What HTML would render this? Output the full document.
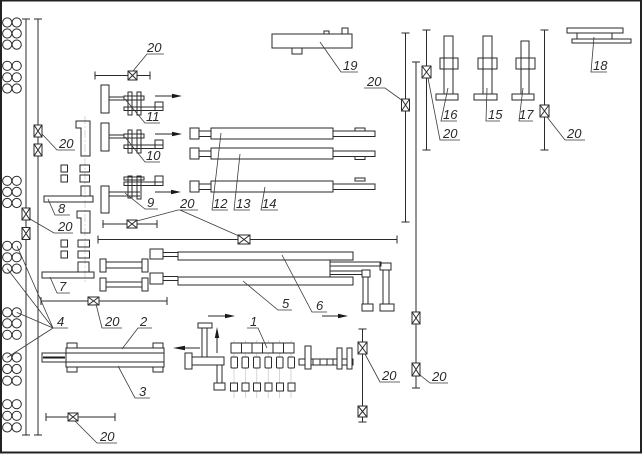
<!DOCTYPE html>
<html><head><meta charset="utf-8"><style>
html,body{margin:0;padding:0;background:#fff;}
svg{display:block;}
.s{fill:none;stroke:#2a2a2a;stroke-width:1;}
.l{fill:none;stroke:#3a3a3a;stroke-width:0.8;}
.c{fill:none;stroke:#bdbdbd;stroke-width:0.6;}
text{font-family:"Liberation Sans",sans-serif;font-style:italic;font-size:13px;fill:#2a2a2a;}
.a{fill:#1a1a1a;stroke:none;}
</style></head><body>
<svg width="642" height="454" viewBox="0 0 642 454" xmlns="http://www.w3.org/2000/svg">
<rect x="1" y="0.5" width="640" height="452" fill="none" stroke="#222" stroke-width="2"/>

<!-- circles -->
<g class="s">
<circle cx="7.2" cy="22.5" r="4.6"/><circle cx="16.7" cy="22.5" r="4.6"/>
<circle cx="7.2" cy="33.5" r="4.6"/><circle cx="16.7" cy="33.5" r="4.6"/>
<circle cx="7.2" cy="44.6" r="4.6"/><circle cx="16.7" cy="44.6" r="4.6"/>
<circle cx="7.2" cy="65.8" r="4.6"/><circle cx="16.7" cy="65.8" r="4.6"/>
<circle cx="7.2" cy="77.3" r="4.6"/><circle cx="16.7" cy="77.3" r="4.6"/>
<circle cx="7.2" cy="88.5" r="4.6"/><circle cx="16.7" cy="88.5" r="4.6"/>
<circle cx="7.2" cy="180.8" r="4.6"/><circle cx="16.7" cy="180.8" r="4.6"/>
<circle cx="7.2" cy="191.9" r="4.6"/><circle cx="16.7" cy="191.9" r="4.6"/>
<circle cx="7.2" cy="203" r="4.6"/><circle cx="16.7" cy="203" r="4.6"/>
<circle cx="7.2" cy="245.8" r="4.6"/><circle cx="16.7" cy="245.8" r="4.6"/>
<circle cx="7.2" cy="257.3" r="4.6"/><circle cx="16.7" cy="257.3" r="4.6"/>
<circle cx="7.2" cy="268.6" r="4.6"/><circle cx="16.7" cy="268.6" r="4.6"/>
<circle cx="7.2" cy="312.4" r="4.6"/><circle cx="16.7" cy="312.4" r="4.6"/>
<circle cx="7.2" cy="323.4" r="4.6"/><circle cx="16.7" cy="323.4" r="4.6"/>
<circle cx="7.2" cy="334.8" r="4.6"/><circle cx="16.7" cy="334.8" r="4.6"/>
<circle cx="7.2" cy="357.5" r="4.6"/><circle cx="16.7" cy="357.5" r="4.6"/>
<circle cx="7.2" cy="369" r="4.6"/><circle cx="16.7" cy="369" r="4.6"/>
<circle cx="7.2" cy="380.7" r="4.6"/><circle cx="16.7" cy="380.7" r="4.6"/>
<circle cx="7.2" cy="404.2" r="4.6"/><circle cx="16.7" cy="404.2" r="4.6"/>
<circle cx="7.2" cy="415.8" r="4.6"/><circle cx="16.7" cy="415.8" r="4.6"/>
<circle cx="7.2" cy="427.4" r="4.6"/><circle cx="16.7" cy="427.4" r="4.6"/>
</g>

<!-- vertical lines with end ticks -->
<g class="s">
<path d="M26 19V435M22 19H30M22 435H30"/>
<path d="M38 19V435M34 19H42M34 435H42"/>
<path d="M405.5 33V222M401.5 33H409.5M401.5 222H409.5"/>
<path d="M416 62V388M412 62H420M412 388H420"/>
<path d="M426.5 30V150M422.5 30H430.5M422.5 150H430.5"/>
<path d="M544.5 30V150M540.5 30H548.5M540.5 150H548.5"/>
<path d="M362.5 329V422M358.5 329H366.5M358.5 422H366.5"/>
<!-- horizontal bars with ticks -->
<path d="M95 75.5H150M95 71.5V79.5M150 71.5V79.5"/>
<path d="M103 224H157M103 220V228M157 220V228"/>
<path d="M98 239.5H397M98 235.5V243.5M397 235.5V243.5"/>
<path d="M41 301H167M41 297V305M167 297V305"/>
<path d="M46 417H115M46 413V421M115 413V421"/>
</g>

<!-- crossed boxes -->
<g class="s" fill="#fff">
<rect x="34" y="125" width="8" height="12" fill="#fff"/><path d="M34 125L42 137M42 125L34 137"/>
<rect x="34" y="144" width="8" height="12" fill="#fff"/><path d="M34 144L42 156M42 144L34 156"/>
<rect x="22" y="208" width="8" height="12" fill="#fff"/><path d="M22 208L30 220M30 208L22 220"/>
<rect x="22" y="227.5" width="8" height="12" fill="#fff"/><path d="M22 227.5L30 239.5M30 227.5L22 239.5"/>
<rect x="401.5" y="99" width="8" height="12" fill="#fff"/><path d="M401.5 99L409.5 111M409.5 99L401.5 111"/>
<rect x="422" y="66" width="9" height="12" fill="#fff"/><path d="M422 66L431 78M431 66L422 78"/>
<rect x="540" y="105" width="9" height="12" fill="#fff"/><path d="M540 105L549 117M549 105L540 117"/>
<rect x="358" y="342" width="9" height="12" fill="#fff"/><path d="M358 342L367 354M367 342L358 354"/>
<rect x="358" y="406" width="9" height="11" fill="#fff"/><path d="M358 406L367 417M367 406L358 417"/>
<rect x="412" y="312" width="8" height="12" fill="#fff"/><path d="M412 312L420 324M420 312L412 324"/>
<rect x="412" y="363" width="8" height="13" fill="#fff"/><path d="M412 363L420 376M420 363L412 376"/>
<rect x="128" y="71" width="9" height="9" fill="#fff"/><path d="M128 71L137 80M137 71L128 80"/>
<rect x="127" y="220" width="10" height="8" fill="#fff"/><path d="M127 220L137 228M137 220L127 228"/>
<rect x="238" y="235" width="12" height="9" fill="#fff"/><path d="M238 235L250 244M250 235L238 244"/>
<rect x="88" y="297" width="11" height="8" fill="#fff"/><path d="M88 297L99 305M99 297L88 305"/>
<rect x="68" y="413" width="10" height="8" fill="#fff"/><path d="M68 413L78 421M78 413L68 421"/>
</g>

<!-- items 8 / 7 column -->
<path class="c" d="M85 116V284" stroke-dasharray="8 2 2 2"/>
<g class="s">
<path d="M76 121H90V156H81V128H76Z"/>
<rect x="61" y="165" width="6.5" height="7"/><rect x="61" y="175" width="6.5" height="7"/>
<rect x="80" y="165" width="9.5" height="7"/><rect x="80" y="175" width="9.5" height="7"/>
<rect x="81" y="186" width="9" height="10"/>
<rect x="44" y="196" width="49" height="6"/>
<path d="M77 211H90V233H81V218H77Z"/>
<rect x="61" y="240" width="6.5" height="7"/><rect x="61" y="251" width="6.5" height="7"/>
<rect x="78" y="240" width="11.5" height="7"/><rect x="78" y="251" width="11.5" height="7"/>
<rect x="78" y="262" width="11" height="10"/>
<rect x="42" y="272" width="52" height="6"/>
</g>

<!-- clamps 11, 10, 9 -->
<g class="s">
<g>
<rect x="101" y="85" width="8" height="28"/>
<path d="M109 97H124M109 100H124"/>
<rect x="124" y="96" width="20" height="4"/>
<rect x="128" y="92" width="4" height="23"/><rect x="137" y="92" width="4" height="23"/>
<rect x="124" y="107" width="39" height="3.5"/>
<rect x="155" y="102" width="8" height="8.5"/>
</g>
<g transform="translate(0,38)">
<rect x="101" y="85" width="8" height="28"/>
<path d="M109 97H124M109 100H124"/>
<rect x="124" y="96" width="20" height="4"/>
<rect x="128" y="92" width="4" height="23"/><rect x="137" y="92" width="4" height="23"/>
<rect x="124" y="107" width="39" height="3.5"/>
<rect x="155" y="102" width="8" height="8.5"/>
</g>
<rect x="101" y="186" width="8" height="27"/>
<path d="M109 192H140M109 196H140"/>
<rect x="124" y="177" width="20" height="3"/>
<rect x="124" y="182" width="39" height="3.5"/>
<rect x="155" y="176" width="8" height="9.5"/>
<rect x="128" y="176" width="4" height="22"/><rect x="137" y="176" width="4" height="23"/>
</g>
<g class="s">
<path d="M155 96H174M155 134H174M155 192H173"/>
<path d="M200 348H184M217 353V337M208 316H226M322 316H339"/>
</g>
<g class="a">
<polygon points="172,93.8 182,96 172,98.2"/>
<polygon points="172,131.8 182,134 172,136.2"/>
<polygon points="171,189.8 181,192 171,194.2"/>
<polygon points="185,345.8 173,348 185,350.2"/>
<polygon points="214.8,338 217,327 219.2,338"/>
<polygon points="225,313.8 235,316 225,318.2"/>
<polygon points="338,313.8 348,316 338,318.2"/>
</g>

<!-- cylinders 12, 13, 14 -->
<g class="s">
<rect x="190" y="128" width="9" height="11"/><path d="M199 131H211M199 136.5H211"/>
<rect x="211" y="128" width="122" height="11"/><rect x="333" y="131" width="42" height="5.5"/>
<rect x="355" y="128" width="10" height="3"/>
<rect x="190" y="148" width="9" height="11"/><path d="M199 151H211M199 156.5H211"/>
<rect x="211" y="148" width="122" height="11"/><rect x="333" y="151" width="42" height="5.5"/>
<rect x="355" y="156.5" width="10" height="3"/>
<rect x="190" y="181" width="9" height="11"/><path d="M199 184H211M199 189.5H211"/>
<rect x="211" y="181" width="122" height="11"/><rect x="333" y="184" width="42" height="5.5"/>
<rect x="355" y="178" width="10" height="3"/>
</g>

<!-- item 19 -->
<g class="s">
<rect x="272" y="34" width="80" height="14"/>
<rect x="292" y="48" width="10" height="6"/>
<rect x="324" y="31" width="5" height="3"/>
<rect x="342" y="28" width="6" height="6"/>
</g>

<!-- items 16, 15, 17 -->
<g class="s">
<rect x="444" y="36" width="9" height="58"/><rect x="440" y="58" width="18" height="11"/><rect x="436" y="94" width="22" height="6"/>
<rect x="483" y="36" width="9" height="58"/><rect x="478" y="58" width="19" height="11"/><rect x="474" y="94" width="23" height="6"/>
<rect x="521" y="41" width="8" height="53"/><rect x="516" y="58" width="19" height="11"/><rect x="512" y="94" width="22" height="6"/>
</g>

<!-- item 18 -->
<g class="s">
<rect x="567" y="28" width="56" height="5"/>
<rect x="577" y="33" width="35" height="6"/>
<rect x="572" y="39" width="59" height="4"/>
</g>

<!-- dumbbells and cylinders 5, 6 -->
<g class="s">
<rect x="100" y="259" width="6" height="13"/><rect x="106" y="262" width="36" height="6"/><rect x="142" y="259" width="6" height="13"/>
<rect x="100" y="278" width="6" height="13"/><rect x="106" y="282" width="36" height="5"/><rect x="142" y="278" width="6" height="13"/>
<rect x="150" y="249" width="13" height="10"/><path d="M163 252.5H178M163 256.5H178"/>
<rect x="178" y="252" width="175" height="8"/>
<rect x="150" y="273" width="13" height="11"/><path d="M163 276.5H178M163 280.5H178"/>
<rect x="178" y="277" width="175" height="8"/>
<path d="M330 260V277"/>
<rect x="330" y="262" width="51" height="4"/>
<rect x="330" y="271" width="32" height="3.5"/>
<rect x="380" y="263" width="11" height="7"/><rect x="383" y="270" width="6" height="34"/><rect x="380" y="304" width="14" height="7"/>
<rect x="362" y="270" width="8" height="7"/><rect x="363" y="277" width="5" height="27"/><rect x="362" y="304" width="11" height="7"/>
</g>

<!-- cylinder 2/3 -->
<g class="s">
<rect x="66" y="348" width="98" height="19"/>
<path d="M66 353H164M66 362H164"/>
<rect x="67" y="343" width="10" height="5"/><rect x="153" y="343" width="10" height="5"/>
<rect x="67" y="367" width="10" height="5"/><rect x="153" y="367" width="10" height="5"/>
<rect x="42" y="353" width="24" height="9"/>
</g>
<path d="M43 357.5H65" stroke="#1a1a1a" stroke-width="2"/>

<!-- item 1 area -->
<g class="s">
<rect x="198" y="323" width="14" height="5"/>
<rect x="202" y="328" width="5" height="29"/>
<rect x="192" y="357" width="32" height="8"/>
<rect x="185" y="353" width="7" height="16"/>
<rect x="217" y="365" width="5" height="18"/>
<rect x="214" y="383" width="11" height="7"/>
</g>
<g class="c">
<path d="M234 340V398M245.3 340V398M256.8 340V398M268.2 340V398M279.6 340V398M291 340V398"/>
</g>
<g class="s">
<rect x="231" y="343" width="63" height="10" fill="#fff"/>
<path d="M241.5 343V353M252 343V353M262.5 343V353M273 343V353M283.5 343V353"/>
<rect x="231" y="357" width="6.5" height="11" rx="1" fill="#fff"/>
<rect x="242" y="357" width="6.5" height="11" rx="1" fill="#fff"/>
<rect x="253.5" y="357" width="6.5" height="11" rx="1" fill="#fff"/>
<rect x="265" y="357" width="6.5" height="11" rx="1" fill="#fff"/>
<rect x="276.5" y="357" width="6.5" height="11" rx="1" fill="#fff"/>
<rect x="288" y="357" width="6.5" height="11" rx="1" fill="#fff"/>
<rect x="230.5" y="383" width="7" height="8" fill="#fff"/>
<rect x="242" y="383" width="7" height="8" fill="#fff"/>
<rect x="253.5" y="383" width="7" height="8" fill="#fff"/>
<rect x="265" y="383" width="7" height="8" fill="#fff"/>
<rect x="276.5" y="383" width="7" height="8" fill="#fff"/>
<rect x="288" y="383" width="7" height="8" fill="#fff"/>
<rect x="299" y="359" width="54" height="6"/>
<path d="M313 359V365M320 359V365M327 359V365M333 359V365"/>
<rect x="305" y="346" width="6" height="23" fill="#fff"/>
<rect x="337" y="348" width="5" height="21" fill="#fff"/>
<rect x="347" y="348" width="5" height="21" fill="#fff"/>
</g>

<!-- leaders and underlines -->
<g class="l">
<path d="M133 71L147 54H164"/>
<path d="M125 99L145 123H160"/>
<path d="M125 137L145 162H160"/>
<path d="M125 193L145 209H158"/>
<path d="M137 221L178 210H198M180 210L239 236"/>
<path d="M42 134L57 150H75"/>
<path d="M30 219L54 233H73"/>
<path d="M48 199L55 215H70"/>
<path d="M50 277L57 293H70"/>
<path d="M68 328H53L17 246M53 328L7.2 268.6M53 328L16.7 312.4M53 328L7.2 357.5"/>
<path d="M96 304L102 328H122"/>
<path d="M122 349L138 328H152"/>
<path d="M118 366L135 398H150"/>
<path d="M75 421L97 443H117"/>
<path d="M221 133L212 210H228"/>
<path d="M240 154L234 210H250"/>
<path d="M265 187L261 210H278"/>
<path d="M320 42L341 72H358"/>
<path d="M403 101L385 88H364"/>
<path d="M428 78L440 140H460"/>
<path d="M448 88L441 121H457"/>
<path d="M487 88L486 121H500"/>
<path d="M523 88L519 121H533"/>
<path d="M547 117L565 140H585"/>
<path d="M594 37L591 72H607"/>
<path d="M282 255L312 312H327"/>
<path d="M243 281L278 310H292"/>
<path d="M267 348L258 328H247"/>
<path d="M365 354L380 382H400"/>
<path d="M420 375L430 383H448"/>
</g>

<!-- labels -->
<text x="147" y="52">20</text>
<text x="146" y="121">11</text>
<text x="146" y="160">10</text>
<text x="147" y="207">9</text>
<text x="180" y="208">20</text>
<text x="59" y="148">20</text>
<text x="58" y="231">20</text>
<text x="58" y="213">8</text>
<text x="59" y="291">7</text>
<text x="57" y="326">4</text>
<text x="105" y="326">20</text>
<text x="140" y="326">2</text>
<text x="139" y="396">3</text>
<text x="100" y="441">20</text>
<text x="213" y="208">12</text>
<text x="236" y="208">13</text>
<text x="262" y="208">14</text>
<text x="343" y="70">19</text>
<text x="367" y="86">20</text>
<text x="443" y="138">20</text>
<text x="443" y="119">16</text>
<text x="488" y="119">15</text>
<text x="519" y="119">17</text>
<text x="567" y="138">20</text>
<text x="593" y="70">18</text>
<text x="316" y="310">6</text>
<text x="282" y="308">5</text>
<text x="250" y="326">1</text>
<text x="382" y="380">20</text>
<text x="432" y="381">20</text>
</svg>
</body></html>
